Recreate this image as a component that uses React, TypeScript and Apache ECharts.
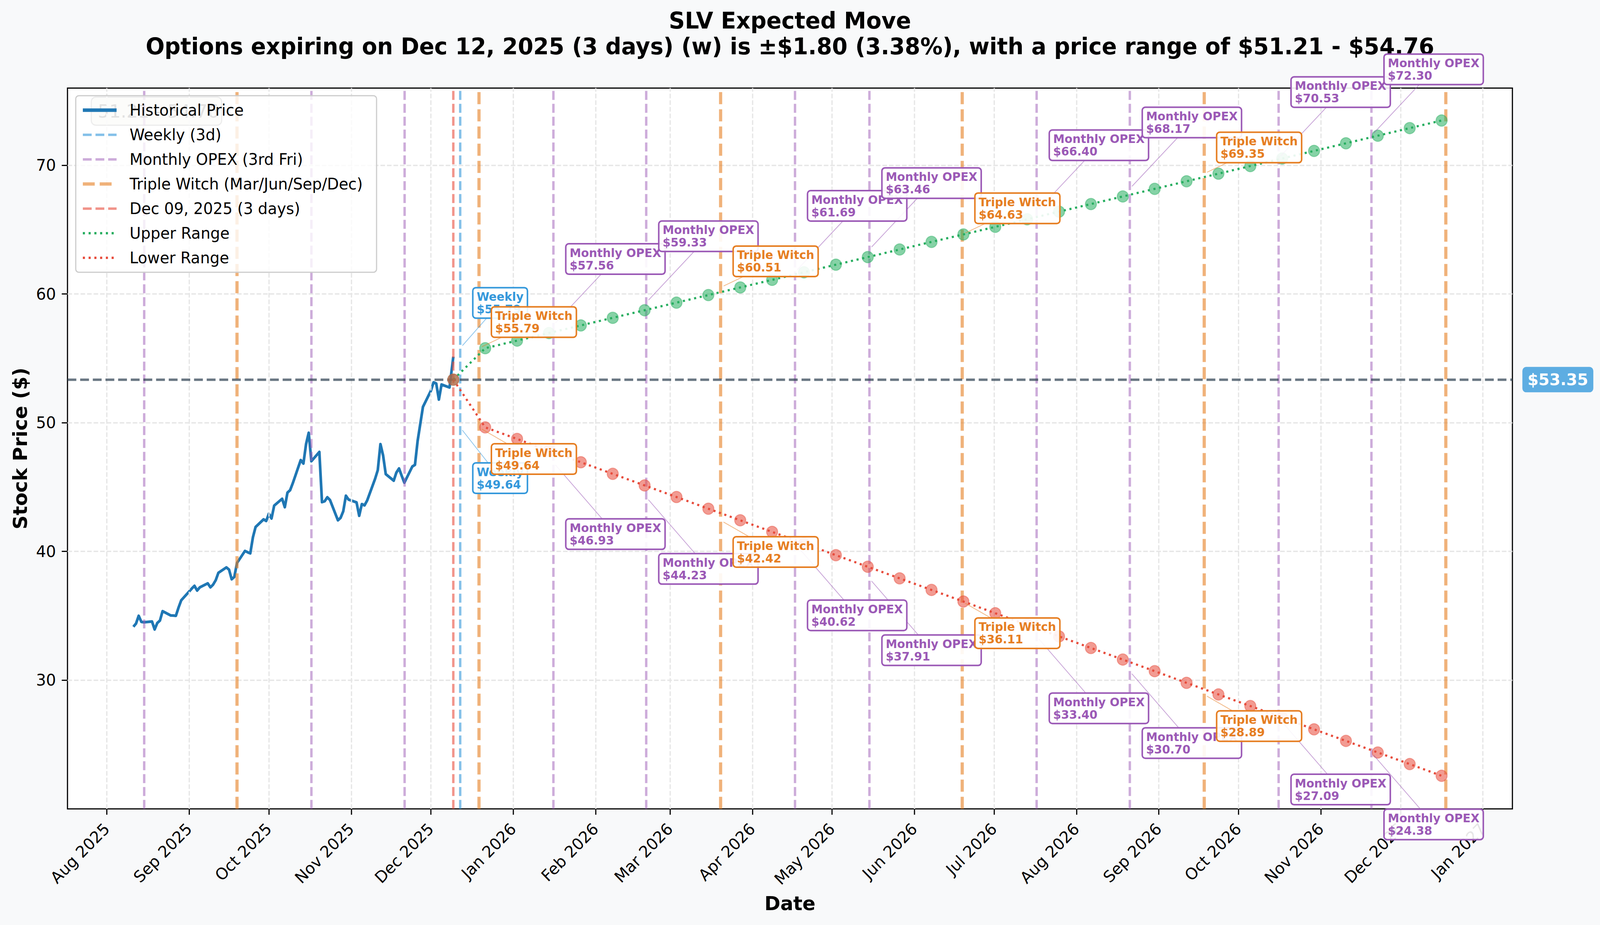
import React, { useEffect, useRef, useState } from "react";
import * as echarts from "echarts";

// ---------------- DATA ----------------
const histDates = [
  "2025-08-11","2025-08-12","2025-08-13","2025-08-14","2025-08-15","2025-08-18","2025-08-19","2025-08-20","2025-08-21","2025-08-22",
  "2025-08-25","2025-08-26","2025-08-27","2025-08-28","2025-08-29",
  "2025-09-02","2025-09-03","2025-09-04","2025-09-05","2025-09-08","2025-09-09","2025-09-10","2025-09-11","2025-09-12",
  "2025-09-15","2025-09-16","2025-09-17","2025-09-18","2025-09-19","2025-09-22","2025-09-23","2025-09-24","2025-09-25","2025-09-26",
  "2025-09-29","2025-09-30",
  "2025-10-01","2025-10-02","2025-10-03","2025-10-06","2025-10-07","2025-10-08","2025-10-09","2025-10-10","2025-10-13","2025-10-14",
  "2025-10-15","2025-10-16","2025-10-17","2025-10-20","2025-10-21","2025-10-22","2025-10-23","2025-10-24","2025-10-27","2025-10-28",
  "2025-10-29","2025-10-30","2025-10-31",
  "2025-11-03","2025-11-04","2025-11-05","2025-11-06","2025-11-07","2025-11-10","2025-11-11","2025-11-12","2025-11-13","2025-11-14",
  "2025-11-17","2025-11-18","2025-11-19","2025-11-20","2025-11-21","2025-11-24","2025-11-25","2025-11-26","2025-11-28",
  "2025-12-01","2025-12-02","2025-12-03","2025-12-04","2025-12-05","2025-12-08","2025-12-09T10:30:00Z",
];
const histPrices = [
  34.15, 34.40, 35.00, 34.53, 34.50, 34.56, 33.94, 34.44, 34.63, 35.36,
  35.03, 35.02, 35.00, 35.64, 36.20,
  37.12, 37.33, 36.96, 37.21, 37.52, 37.21, 37.42, 37.77, 38.34,
  38.76, 38.59, 37.84, 38.02, 39.10, 40.04, 39.94, 39.85, 41.10, 41.90,
  42.49, 42.37,
  42.93, 42.56, 43.56, 44.09, 43.44, 44.57, 44.76, 45.30, 47.10, 46.83,
  48.34, 49.22, 47.01, 47.73, 43.83, 43.90, 44.21, 44.00, 42.42, 42.61,
  43.12, 44.33, 44.03,
  43.81, 42.77, 43.68, 43.58, 43.96, 45.65, 46.32, 48.34, 47.46, 46.01,
  45.50, 46.13, 46.45, 45.88, 45.34, 46.60, 46.73, 48.59, 51.23,
  52.49, 53.14, 53.05, 51.80, 52.97, 52.74, 55.13,
];

const forecastDates = [
  "2025-12-09","2025-12-21","2026-01-02","2026-01-14","2026-01-26","2026-02-07","2026-02-19","2026-03-03",
  "2026-03-15","2026-03-27","2026-04-08","2026-04-20","2026-05-02","2026-05-14","2026-05-26","2026-06-07",
  "2026-06-19","2026-07-01","2026-07-13","2026-07-25","2026-08-06","2026-08-18","2026-08-30","2026-09-11",
  "2026-09-23","2026-10-05","2026-10-17","2026-10-29","2026-11-10","2026-11-22","2026-12-04","2026-12-16",
];
const upperRange = [
  53.35, 55.79, 56.38, 56.97, 57.56, 58.15, 58.74, 59.33,
  59.92, 60.51, 61.10, 61.69, 62.28, 62.87, 63.46, 64.05,
  64.63, 65.22, 65.81, 66.40, 66.99, 67.58, 68.17, 68.76,
  69.35, 69.94, 70.53, 71.12, 71.71, 72.30, 72.89, 73.48,
];
const lowerRange = [
  53.35, 49.64, 48.74, 47.83, 46.93, 46.03, 45.13, 44.23,
  43.32, 42.42, 41.52, 40.62, 39.71, 38.81, 37.91, 37.01,
  36.11, 35.20, 34.30, 33.40, 32.50, 31.60, 30.70, 29.79,
  28.89, 27.99, 27.09, 26.18, 25.28, 24.38, 23.48, 22.57,
];

const currentPrice = 53.35;
const nowTime = "2025-12-09T10:30:00Z";
const weeklyDates = ["2025-12-12"];
const monthlyDates = [
  "2025-08-15","2025-10-17","2025-11-21","2026-01-16","2026-02-20","2026-04-17",
  "2026-05-15","2026-07-17","2026-08-21","2026-10-16","2026-11-20",
];
const tripleWitchDates = ["2025-09-19","2025-12-19","2026-03-20","2026-06-19","2026-09-18","2026-12-18"];

const annoKinds = [
  "Weekly","Triple Witch","Monthly OPEX","Monthly OPEX","Triple Witch","Monthly OPEX","Monthly OPEX",
  "Triple Witch","Monthly OPEX","Monthly OPEX","Triple Witch","Monthly OPEX","Monthly OPEX",
];
const annoDates = [
  "2025-12-12","2025-12-19","2026-01-16","2026-02-20","2026-03-20","2026-04-17","2026-05-15",
  "2026-06-19","2026-07-17","2026-08-21","2026-09-18","2026-10-16","2026-11-20",
];
const annoUpper = [55.79, 55.79, 57.56, 59.33, 60.51, 61.69, 63.46, 64.63, 66.40, 68.17, 69.35, 70.53, 72.30];
const annoLower = [49.64, 49.64, 46.93, 44.23, 42.42, 40.62, 37.91, 36.11, 33.40, 30.70, 28.89, 27.09, 24.38];

const monthTicks = [
  "2025-08-01","2025-09-01","2025-10-01","2025-11-01","2025-12-01","2026-01-01","2026-02-01","2026-03-01","2026-04-01",
  "2026-05-01","2026-06-01","2026-07-01","2026-08-01","2026-09-01","2026-10-01","2026-11-01","2026-12-01","2027-01-01",
];
const monthTickLabels = [
  "Aug 2025","Sep 2025","Oct 2025","Nov 2025","Dec 2025","Jan 2026","Feb 2026","Mar 2026","Apr 2026",
  "May 2026","Jun 2026","Jul 2026","Aug 2026","Sep 2026","Oct 2026","Nov 2026","Dec 2026","Jan 2027",
];
const yTicks = [30, 40, 50, 60, 70];

const titleText = "SLV Expected Move";
const subtitleText = "Options expiring on Dec 12, 2025 (3 days) (w) is \u00b1$1.80 (3.38%), with a price range of $51.21 - $54.76";
const rangeBadgeText = "51.21 - 54.76";

// ---------------- LAYOUT / STYLE ----------------
const W = 4172;
const H = 2368;
const FONT = '"DejaVu Sans", "Noto Sans", sans-serif';
const X_MIN = "2025-07-17T04:48:00Z";
const X_MAX = "2027-01-12T02:24:00Z";
const GRID = { left: 176, right: 228.4, top: 225.5, bottom: 297.3 };

const t = (s: string) => Date.parse(s.length === 10 ? s + "T00:00:00Z" : s);

const C_WEEKLY = "rgba(52,152,219,0.6)";
const C_MONTHLY = "rgba(155,89,182,0.5)";
const C_TW = "rgba(230,126,34,0.6)";
const C_NOW = "rgba(231,76,60,0.6)";
const DASH = [23, 10];
const DASH_TW = [31, 13];
const DOT = [5.5, 9.5];

const kindColor: Record<string, string> = {
  "Weekly": "#3498db",
  "Monthly OPEX": "#9b59b6",
  "Triple Witch": "#e67e22",
};
const kindOffset: Record<string, number> = { "Weekly": 77, "Monthly OPEX": 131, "Triple Witch": 28 };

function measure(text: string, font: string) {
  const c = document.createElement("canvas");
  const ctx = c.getContext("2d")!;
  ctx.font = font;
  return ctx.measureText(text).width;
}

function vLineSeries(name: string, dates: string[], color: string, width: number, dash: number[], z: number) {
  return {
    name,
    type: "line",
    data: [],
    z,
    symbol: "none",
    silent: true,
    lineStyle: { color, width, type: dash },
    itemStyle: { color },
    markLine: {
      silent: true,
      symbol: ["none", "none"],
      label: { show: false },
      emphasis: { disabled: true },
      lineStyle: { color, width, type: dash },
      data: dates.map((d) => ({ xAxis: t(d) })),
    },
  };
}

export default function App() {
  const ref = useRef<HTMLDivElement>(null);
  const [scale, setScale] = useState<[number, number]>([1, 1]);

  useEffect(() => {
    const iw = window.innerWidth || W;
    const ih = window.innerHeight || H;
    setScale([Math.min(1, iw / W), Math.min(1, ih / H)]);

    const chart = echarts.init(ref.current!, null, { renderer: "svg", width: W, height: H });
    const tickTimes = monthTicks.map(t);

    const option: any = {
      animation: false,
      backgroundColor: "#f8f9fa",
      textStyle: { fontFamily: FONT },
      grid: {
        left: GRID.left, right: GRID.right, top: GRID.top, bottom: GRID.bottom,
        show: true, backgroundColor: "#ffffff", borderColor: "#000000", borderWidth: 3,
      },
      legend: {
        orient: "vertical",
        left: 197.5,
        top: 245,
        z: 20,
        padding: [17, 36, 17, 14],
        itemGap: 23,
        itemWidth: 88,
        itemHeight: 40,
        backgroundColor: "rgba(255,255,255,0.8)",
        borderColor: "#cccccc",
        borderWidth: 3,
        borderRadius: 8,
        selectedMode: false,
        itemStyle: { opacity: 0, borderWidth: 0 },
        textStyle: { fontSize: 40, lineHeight: 40, color: "#000", fontFamily: FONT, padding: [0, 0, 0, 29] },
        data: [
          { name: "Historical Price", lineStyle: { color: "#1f77b4", width: 9, type: "solid" } },
          { name: "Weekly (3d)", lineStyle: { color: C_WEEKLY, width: 6.25, type: DASH } },
          { name: "Monthly OPEX (3rd Fri)", lineStyle: { color: C_MONTHLY, width: 6.25, type: DASH } },
          { name: "Triple Witch (Mar/Jun/Sep/Dec)", lineStyle: { color: C_TW, width: 8.3, type: DASH_TW } },
          { name: "Dec 09, 2025 (3 days)", lineStyle: { color: C_NOW, width: 6.25, type: DASH } },
          { name: "Upper Range", lineStyle: { color: "#27ae60", width: 6, type: DOT } },
          { name: "Lower Range", lineStyle: { color: "#e74c3c", width: 6, type: DOT } },
        ],
      },
      xAxis: {
        type: "value",
        min: t(X_MIN),
        max: t(X_MAX),
        name: "Date",
        nameLocation: "middle",
        nameGap: 217,
        nameTextStyle: { fontSize: 50, fontWeight: "bold", color: "#000", fontFamily: FONT },
        axisLine: { show: false },
        splitLine: { show: false },
        axisTick: { show: true, length: 15, lineStyle: { color: "#000", width: 3 }, customValues: tickTimes },
        axisLabel: {
          customValues: tickTimes,
          rotate: 45,
          margin: 44,
          fontSize: 41,
          color: "#000",
          fontFamily: FONT,
          formatter: (v: number) => {
            const i = tickTimes.findIndex((x) => Math.abs(x - v) < 3600e3);
            return i >= 0 ? monthTickLabels[i] : "";
          },
        },
      },
      yAxis: {
        type: "value",
        min: 20,
        max: 76,
        interval: 10,
        name: "Stock Price ($)",
        nameLocation: "middle",
        nameGap: 98,
        nameTextStyle: { fontSize: 50, fontWeight: "bold", color: "#000", fontFamily: FONT },
        axisLine: { show: false },
        axisTick: { show: true, length: 15, lineStyle: { color: "#000", width: 3 }, customValues: yTicks },
        axisLabel: { customValues: yTicks, margin: 30, fontSize: 41, color: "#000", fontFamily: FONT },
        splitLine: { show: true, lineStyle: { color: "#e6e6e6", width: 3.3, type: [12, 5] } },
      },
      series: [
        {
          name: "_monthgrid",
          type: "line",
          data: [],
          z: 1,
          silent: true,
          markLine: {
            silent: true,
            symbol: ["none", "none"],
            label: { show: false },
            emphasis: { disabled: true },
            lineStyle: { color: "#e6e6e6", width: 3.3, type: [12, 5] },
            data: tickTimes.map((x) => ({ xAxis: x })),
          },
        },
        vLineSeries("Weekly (3d)", weeklyDates, C_WEEKLY, 6.25, DASH, 2),
        vLineSeries("Monthly OPEX (3rd Fri)", monthlyDates, C_MONTHLY, 6.25, DASH, 2),
        vLineSeries("Triple Witch (Mar/Jun/Sep/Dec)", tripleWitchDates, C_TW, 8.3, DASH_TW, 2),
        vLineSeries("Dec 09, 2025 (3 days)", [nowTime], C_NOW, 6.25, DASH, 2),
        {
          name: "_current",
          type: "line",
          data: [],
          z: 3,
          silent: true,
          markLine: {
            silent: true,
            symbol: ["none", "none"],
            label: { show: false },
            emphasis: { disabled: true },
            lineStyle: { color: "rgba(44,62,80,0.7)", width: 6.25, type: DASH },
            data: [{ yAxis: currentPrice }],
          },
        },
        {
          name: "Historical Price",
          type: "line",
          z: 4,
          symbol: "none",
          silent: true,
          lineStyle: { color: "#1f77b4", width: 7, join: "round" },
          itemStyle: { color: "#1f77b4" },
          data: histDates.map((d, i) => [t(d), histPrices[i]]),
        },
        {
          name: "Upper Range",
          type: "line",
          z: 5,
          symbol: "none",
          silent: true,
          lineStyle: { color: "#27ae60", width: 5.5, type: DOT },
          itemStyle: { color: "#27ae60" },
          data: forecastDates.map((d, i) => [t(d + "T10:30:00Z"), upperRange[i]]),
        },
        {
          name: "Lower Range",
          type: "line",
          z: 5,
          symbol: "none",
          silent: true,
          lineStyle: { color: "#e74c3c", width: 5.5, type: DOT },
          itemStyle: { color: "#e74c3c" },
          data: forecastDates.map((d, i) => [t(d + "T10:30:00Z"), lowerRange[i]]),
        },
        {
          name: "_upperPts",
          type: "scatter",
          z: 6,
          silent: true,
          symbolSize: 29,
          itemStyle: { color: "rgba(39,174,96,0.7)", borderColor: "rgba(39,174,96,0.55)", borderWidth: 2.5 },
          data: forecastDates.map((d, i) => [t(d + "T10:30:00Z"), upperRange[i]]),
        },
        {
          name: "_lowerPts",
          type: "scatter",
          z: 6,
          silent: true,
          symbolSize: 29,
          itemStyle: { color: "rgba(231,76,60,0.7)", borderColor: "rgba(231,76,60,0.55)", borderWidth: 2.5 },
          data: forecastDates.map((d, i) => [t(d + "T10:30:00Z"), lowerRange[i]]),
        },
      ],
    };

    chart.setOption(option);

    // ---------- graphics derived from the chart's own scales ----------
    const toPx = (x: number, y: number) => chart.convertToPixel({ gridIndex: 0 }, [x, y]) as number[];
    const [gx0, gy0] = toPx(t(X_MIN), 76);
    const [gx1] = toPx(t(X_MAX), 76);
    const centerX = (gx0 + gx1) / 2;
    const elements: any[] = [];

    elements.push({
      type: "text", z: 50,
      style: { x: centerX, y: 53, text: titleText, align: "center", verticalAlign: "middle",
        fontSize: 58, fontWeight: "bold", fontFamily: FONT, fill: "#000" },
    });
    elements.push({
      type: "text", z: 50,
      style: { x: centerX, y: 119, text: subtitleText, align: "center", verticalAlign: "middle",
        fontSize: 58, fontWeight: "bold", fontFamily: FONT, fill: "#000" },
    });

    // range badge, seen faintly through the semi-transparent legend
    elements.push({
      type: "rect", z: 3,
      shape: { x: gx0 + 62, y: gy0 + 23, width: 340, height: 72, r: 12 },
      style: { fill: "rgba(240,235,225,0.9)", stroke: "#a0a0a0", lineWidth: 3 },
    });
    elements.push({
      type: "text", z: 3,
      style: { x: gx0 + 62 + 17, y: gy0 + 23 + 36, text: rangeBadgeText, verticalAlign: "middle",
        fontSize: 47, fontFamily: FONT, fill: "#696969" },
    });

    // annotations
    const annoFont = `bold 30px ${FONT}`;
    const BOX_H = 78;
    annoKinds.forEach((kind, i) => {
      const color = kindColor[kind];
      const off = kindOffset[kind];
      const w = Math.max(measure(kind, annoFont), measure("$" + annoUpper[i].toFixed(2), annoFont)) + 20;
      [annoUpper[i], annoLower[i]].forEach((val, side) => {
        const [ax, ay] = toPx(t(annoDates[i]), val);
        const bx = ax + 33;
        const by = side === 0 ? ay - off - BOX_H : ay + off + 14;
        const cx = bx + w / 2;
        const cy = by + BOX_H / 2;
        const dx = ax - cx;
        const dy = ay - cy;
        const tx = dx !== 0 ? (w / 2) / Math.abs(dx) : Infinity;
        const ty = dy !== 0 ? (BOX_H / 2) / Math.abs(dy) : Infinity;
        const te = Math.min(tx, ty);
        const len = Math.hypot(dx, dy);
        const zBase = 10 + i * 4 + side * 2;
        if (te < 1 && len > 0) {
          const sx = cx + te * dx;
          const sy = cy + te * dy;
          const ex = ax - (9 * dx) / len;
          const ey = ay - (9 * dy) / len;
          elements.push({
            type: "line", z: 9,
            shape: { x1: sx, y1: sy, x2: ex, y2: ey },
            style: { stroke: color, opacity: 0.55, lineWidth: 2 },
          });
        }
        elements.push({
          type: "rect", z: zBase,
          shape: { x: bx, y: by, width: w, height: BOX_H, r: 8 },
          style: { fill: "rgba(255,255,255,0.9)", stroke: color, lineWidth: 4 },
        });
        elements.push({
          type: "text", z: zBase + 1,
          style: {
            x: bx + 10, y: by + 7, text: `${kind}\n$${val.toFixed(2)}`, verticalAlign: "top",
            fontSize: 30, fontWeight: "bold", fontFamily: FONT, lineHeight: 32, fill: color,
          },
        });
      });
    });

    // current price tag on the right
    const [, py] = toPx(t(X_MAX), currentPrice);
    elements.push({
      type: "rect", z: 50,
      shape: { x: gx1 + 26, y: py - 32.5, width: 185, height: 65, r: 10 },
      style: { fill: "#5dade2" },
    });
    elements.push({
      type: "text", z: 51,
      style: { x: gx1 + 26 + 92.5, y: py, text: "$" + currentPrice.toFixed(2), align: "center", verticalAlign: "middle",
        fontSize: 41, fontWeight: "bold", fontFamily: FONT, fill: "#ffffff" },
    });

    chart.setOption({ graphic: { elements } });

    return () => chart.dispose();
  }, []);

  return (
    <div
      style={{
        position: "absolute", left: 0, top: 0, width: W, height: H, background: "#f8f9fa",
        transform: `scale(${scale[0]}, ${scale[1]})`, transformOrigin: "0 0",
      }}
    >
      <div ref={ref} style={{ width: W, height: H }} />
    </div>
  );
}
